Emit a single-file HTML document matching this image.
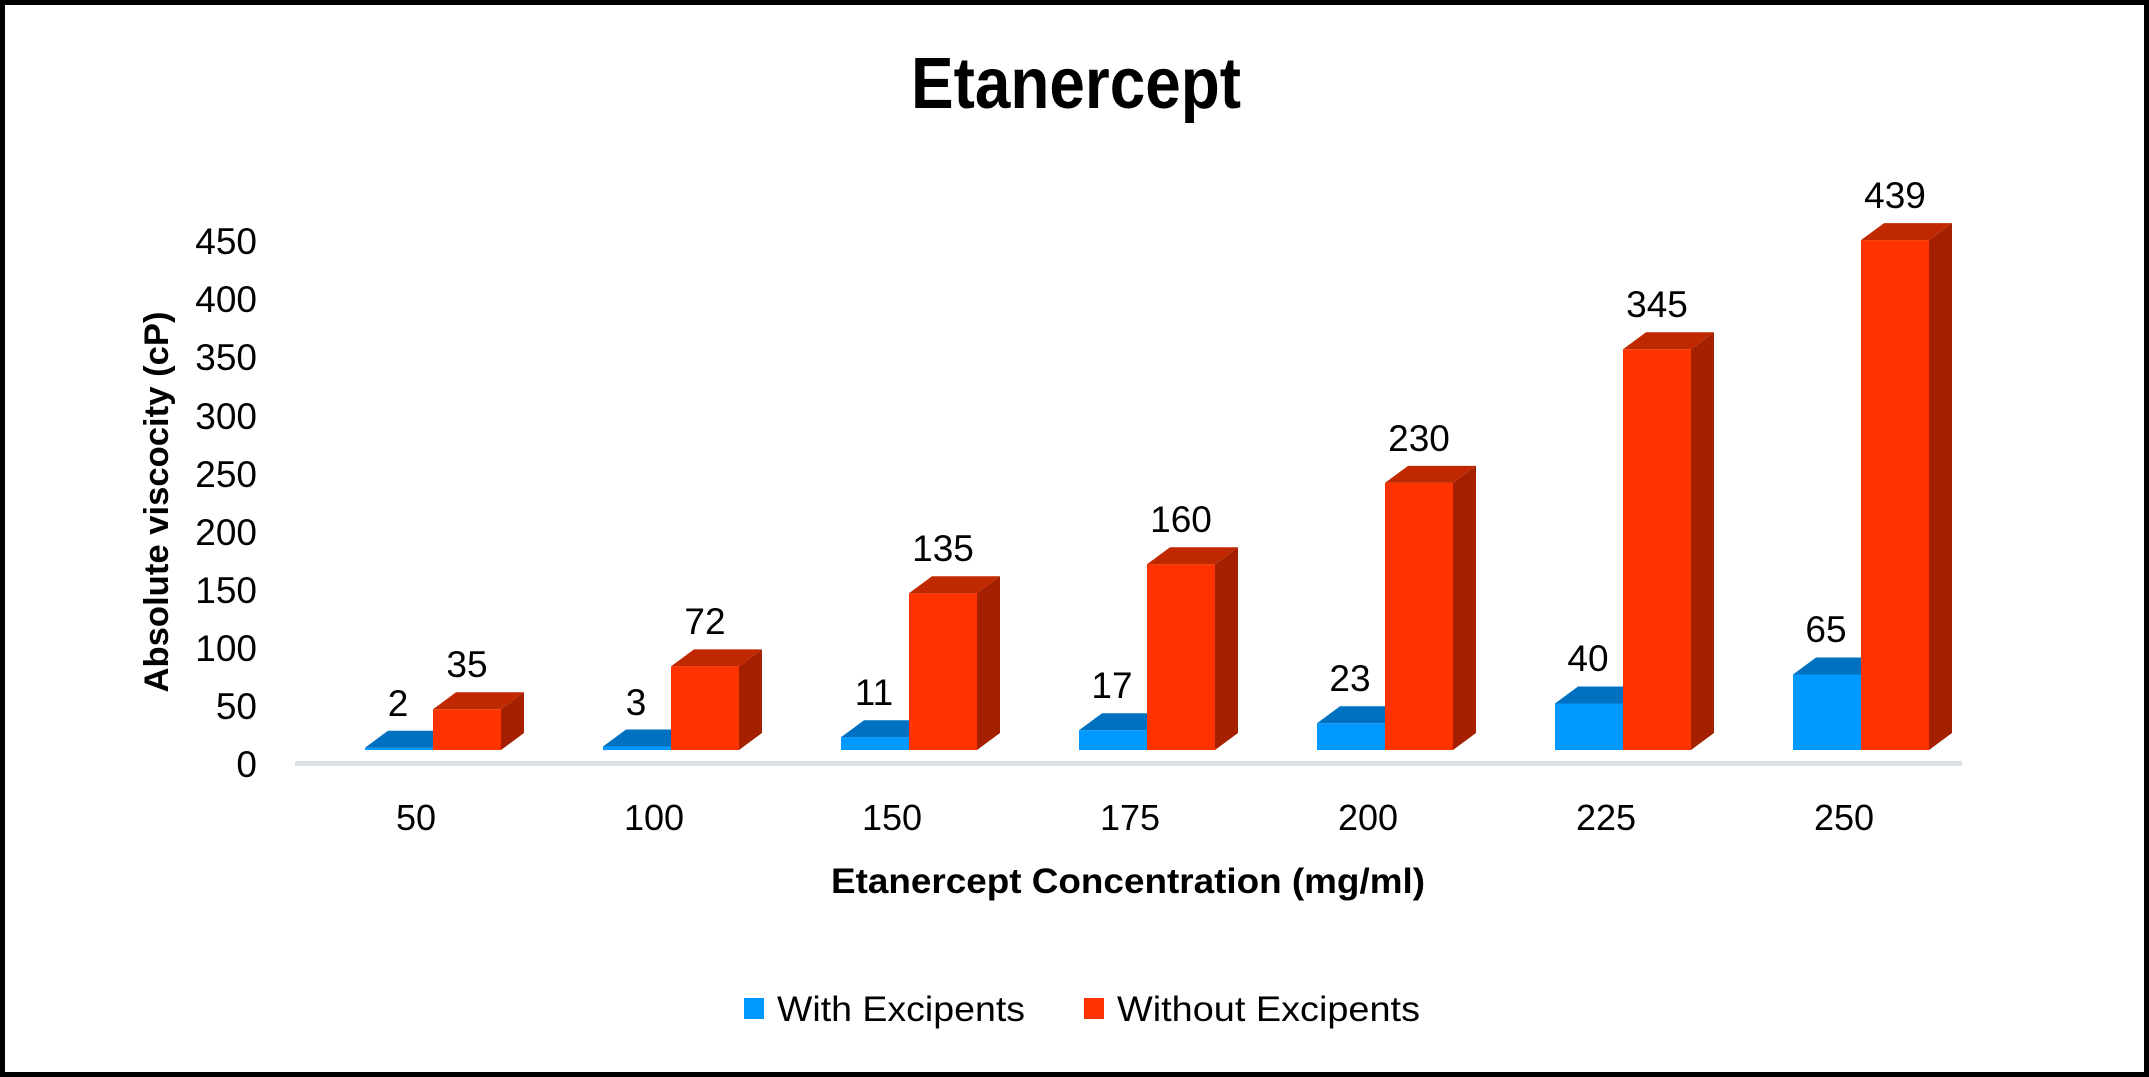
<!DOCTYPE html>
<html><head><meta charset="utf-8"><style>
html,body{margin:0;padding:0;background:#fff}
svg{display:block}
text{font-family:"Liberation Sans",sans-serif;fill:#000}
</style></head><body>
<svg width="2149" height="1077" viewBox="0 0 2149 1077" xmlns="http://www.w3.org/2000/svg">
<rect x="2.5" y="2.5" width="2144" height="1072" fill="#fff" stroke="#000" stroke-width="5"/>
<text x="1076" y="108" font-size="72" font-weight="bold" text-anchor="middle" textLength="330" lengthAdjust="spacingAndGlyphs">Etanercept</text>
<g font-size="37" text-anchor="end">
<text x="257" y="777">0</text>
<text x="257" y="719">50</text>
<text x="257" y="661">100</text>
<text x="257" y="603">150</text>
<text x="257" y="545">200</text>
<text x="257" y="487">250</text>
<text x="257" y="429">300</text>
<text x="257" y="370">350</text>
<text x="257" y="312">400</text>
<text x="257" y="254">450</text>
</g>
<text transform="translate(168,502) rotate(-90)" font-size="34" font-weight="bold" text-anchor="middle" textLength="381" lengthAdjust="spacingAndGlyphs">Absolute viscocity (cP)</text>
<rect x="295" y="761" width="1667" height="5" fill="#dde0e6"/>
<g font-size="36" text-anchor="middle">
<text x="416" y="830">50</text>
<text x="654" y="830">100</text>
<text x="892" y="830">150</text>
<text x="1130" y="830">175</text>
<text x="1368" y="830">200</text>
<text x="1606" y="830">225</text>
<text x="1844" y="830">250</text>
</g>
<text x="1128" y="893" font-size="35" font-weight="bold" text-anchor="middle" textLength="594" lengthAdjust="spacingAndGlyphs">Etanercept Concentration  (mg/ml)</text>
<rect x="744" y="998" width="20" height="21" fill="#0099ff"/>
<text x="777" y="1021" font-size="35" textLength="248" lengthAdjust="spacingAndGlyphs">With Excipents</text>
<rect x="1084" y="998" width="20" height="21" fill="#ff3300"/>
<text x="1117" y="1021" font-size="35" textLength="303" lengthAdjust="spacingAndGlyphs">Without Excipents</text>

<rect x="365" y="747.7" width="68" height="2.3" fill="#0099ff"/>
<polygon points="365,747.7 388,730.7 456,730.7 433,747.7" fill="#0070c0"/>
<rect x="433" y="709.3" width="68" height="40.7" fill="#ff3300"/>
<polygon points="433,709.3 456,692.3 524,692.3 501,709.3" fill="#c02800"/>
<polygon points="501,709.3 524,692.3 524,733 501,750" fill="#a52000"/>
<rect x="603" y="746.5" width="68" height="3.5" fill="#0099ff"/>
<polygon points="603,746.5 626,729.5 694,729.5 671,746.5" fill="#0070c0"/>
<rect x="671" y="666.4" width="68" height="83.6" fill="#ff3300"/>
<polygon points="671,666.4 694,649.4 762,649.4 739,666.4" fill="#c02800"/>
<polygon points="739,666.4 762,649.4 762,733 739,750" fill="#a52000"/>
<rect x="841" y="737.2" width="68" height="12.8" fill="#0099ff"/>
<polygon points="841,737.2 864,720.2 932,720.2 909,737.2" fill="#0070c0"/>
<rect x="909" y="593.2" width="68" height="156.8" fill="#ff3300"/>
<polygon points="909,593.2 932,576.2 1000,576.2 977,593.2" fill="#c02800"/>
<polygon points="977,593.2 1000,576.2 1000,733 977,750" fill="#a52000"/>
<rect x="1079" y="730.3" width="68" height="19.7" fill="#0099ff"/>
<polygon points="1079,730.3 1102,713.3 1170,713.3 1147,730.3" fill="#0070c0"/>
<rect x="1147" y="564.2" width="68" height="185.8" fill="#ff3300"/>
<polygon points="1147,564.2 1170,547.2 1238,547.2 1215,564.2" fill="#c02800"/>
<polygon points="1215,564.2 1238,547.2 1238,733 1215,750" fill="#a52000"/>
<rect x="1317" y="723.3" width="68" height="26.7" fill="#0099ff"/>
<polygon points="1317,723.3 1340,706.3 1408,706.3 1385,723.3" fill="#0070c0"/>
<rect x="1385" y="482.9" width="68" height="267.1" fill="#ff3300"/>
<polygon points="1385,482.9 1408,465.9 1476,465.9 1453,482.9" fill="#c02800"/>
<polygon points="1453,482.9 1476,465.9 1476,733 1453,750" fill="#a52000"/>
<rect x="1555" y="703.5" width="68" height="46.5" fill="#0099ff"/>
<polygon points="1555,703.5 1578,686.5 1646,686.5 1623,703.5" fill="#0070c0"/>
<rect x="1623" y="349.3" width="68" height="400.7" fill="#ff3300"/>
<polygon points="1623,349.3 1646,332.3 1714,332.3 1691,349.3" fill="#c02800"/>
<polygon points="1691,349.3 1714,332.3 1714,733 1691,750" fill="#a52000"/>
<rect x="1793" y="674.5" width="68" height="75.5" fill="#0099ff"/>
<polygon points="1793,674.5 1816,657.5 1884,657.5 1861,674.5" fill="#0070c0"/>
<rect x="1861" y="240.1" width="68" height="509.9" fill="#ff3300"/>
<polygon points="1861,240.1 1884,223.1 1952,223.1 1929,240.1" fill="#c02800"/>
<polygon points="1929,240.1 1952,223.1 1952,733 1929,750" fill="#a52000"/>

<g font-size="37" text-anchor="middle">
<text x="398" y="716">2</text>
<text x="467" y="677">35</text>
<text x="636" y="715">3</text>
<text x="705" y="634">72</text>
<text x="874" y="705">11</text>
<text x="943" y="561">135</text>
<text x="1112" y="698">17</text>
<text x="1181" y="532">160</text>
<text x="1350" y="691">23</text>
<text x="1419" y="451">230</text>
<text x="1588" y="671">40</text>
<text x="1657" y="317">345</text>
<text x="1826" y="642">65</text>
<text x="1895" y="208">439</text>
</g>
</svg>
</body></html>
